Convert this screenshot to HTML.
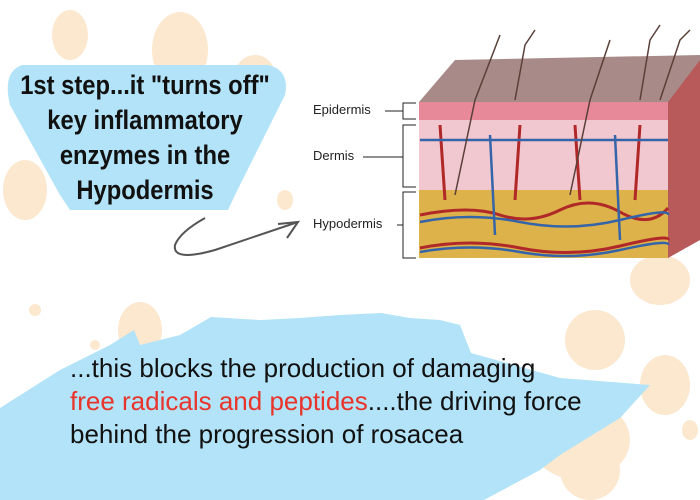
<!DOCTYPE html>
<html><head><style>
body{margin:0;width:700px;height:500px;overflow:hidden;background:#fff;position:relative;font-family:"Liberation Sans",sans-serif}
.t{position:absolute;white-space:nowrap}
</style></head><body>
<svg width="700" height="500" style="position:absolute;left:0;top:0">
<g fill="#fbe8cf">
<ellipse cx="70" cy="35" rx="18" ry="25"/><ellipse cx="180" cy="50" rx="28" ry="38"/>
<ellipse cx="255" cy="75" rx="20" ry="20"/><ellipse cx="25" cy="190" rx="22" ry="30"/>
<ellipse cx="140" cy="330" rx="22" ry="28"/><ellipse cx="250" cy="380" rx="40" ry="50"/>
<ellipse cx="35" cy="310" rx="6" ry="6"/><ellipse cx="95" cy="345" rx="5" ry="5"/>
<ellipse cx="285" cy="200" rx="8" ry="10"/><ellipse cx="665" cy="385" rx="25" ry="30"/>
<ellipse cx="580" cy="440" rx="50" ry="40"/>
<ellipse cx="470" cy="375" rx="20" ry="20"/><ellipse cx="595" cy="340" rx="30" ry="30"/>
<ellipse cx="660" cy="280" rx="30" ry="25"/><ellipse cx="590" cy="470" rx="30" ry="30"/>
<ellipse cx="30" cy="460" rx="25" ry="30"/><ellipse cx="690" cy="430" rx="8" ry="10"/>
<ellipse cx="520" cy="420" rx="20" ry="25"/>
</g>
<path d="M22 65 L268 65 Q290 70 285 95 L235 195 L228 210 L70 210 L60 195 L10 105 Q2 72 22 65 Z" fill="#b2e3f8"/>
<path d="M70 210 L100 216 L140 211 L180 217 L228 210 Z" fill="#fff"/>
<path d="M0 500 L0 408 L60 370 L110 345 L134 330 L140 345 L180 335 L211 317 L260 320 L300 318 L340 315 L381 313 L410 318 L440 320 L460 325 L471 353 L560 378 L650 385 L620 418 L560 455 L540 470 L484 500 Z" fill="#b2e3f8"/>
<path d="M205 218 Q180 232 175 245 Q172 262 215 250 L298 222" fill="none" stroke="#555" stroke-width="2"/>
<path d="M278 224 L298 222 L287 238" fill="none" stroke="#555" stroke-width="2"/>
<polygon points="419,102 455,60 700,55 700,100 668,102" fill="#a88a88"/>
<polygon points="668,102 700,60 700,240 668,258" fill="#b85a5a"/>
<rect x="419" y="102" width="249" height="18" fill="#e8899a"/>
<rect x="419" y="120" width="249" height="70" fill="#f2c8d0"/>
<rect x="419" y="190" width="249" height="68" fill="#ddb24a"/>
<g stroke="#b02828" stroke-width="3" fill="none">
<path d="M420 215 Q470 205 500 215 T560 210 T620 212 T668 208"/>
<path d="M420 248 Q470 238 520 248 T620 246 T668 240"/>
<path d="M440 125 L445 200 M520 125 L515 200 M575 125 L580 200 M640 125 L635 200"/>
</g>
<g stroke="#3565a8" stroke-width="2.5" fill="none">
<path d="M420 222 Q470 212 520 222 T620 220 T668 215"/>
<path d="M420 252 Q470 243 520 252 T620 250 T668 245"/>
<path d="M420 140 L668 140 M490 135 L495 235 M615 135 L620 240"/>
</g>
<g stroke="#5a4038" stroke-width="1.5" fill="none">
<path d="M455 195 L475 100 L500 35"/><path d="M515 100 L525 45 L535 30"/>
<path d="M570 195 L590 100 L610 40"/><path d="M640 100 L650 40 L660 25"/>
<path d="M660 100 L680 40 L690 30"/>
</g>
<g stroke="#222" stroke-width="1" fill="none">
<path d="M385 111 L403 111 M416 103 L403 103 L403 119 L416 119"/>
<path d="M363 157 L403 157 M416 125 L403 125 L403 187 L416 187"/>
<path d="M397 225 L403 225 M416 192 L403 192 L403 258 L416 258"/>
</g>
</svg>
<div class="t" style="left:313px;top:102px;font-size:13px;color:#222">Epidermis</div>
<div class="t" style="left:313px;top:148px;font-size:13px;color:#222">Dermis</div>
<div class="t" style="left:313px;top:216px;font-size:13px;color:#222">Hypodermis</div>
<div class="t" style="left:0;top:68px;width:290px;text-align:center;font-weight:bold;font-size:27px;line-height:35px;color:#111;transform:scaleX(0.88);transform-origin:145px 0">1st step...it "turns off"<br>key inflammatory<br>enzymes in the<br>Hypodermis</div>
<div class="t" style="left:70px;top:352px;font-size:26px;line-height:33px;color:#111;transform:scaleX(1.0);transform-origin:0 0">...this blocks the production of damaging<br><span style="color:#e8342a">free radicals and peptides</span>....the driving force<br>behind the progression of rosacea</div>
</body></html>
